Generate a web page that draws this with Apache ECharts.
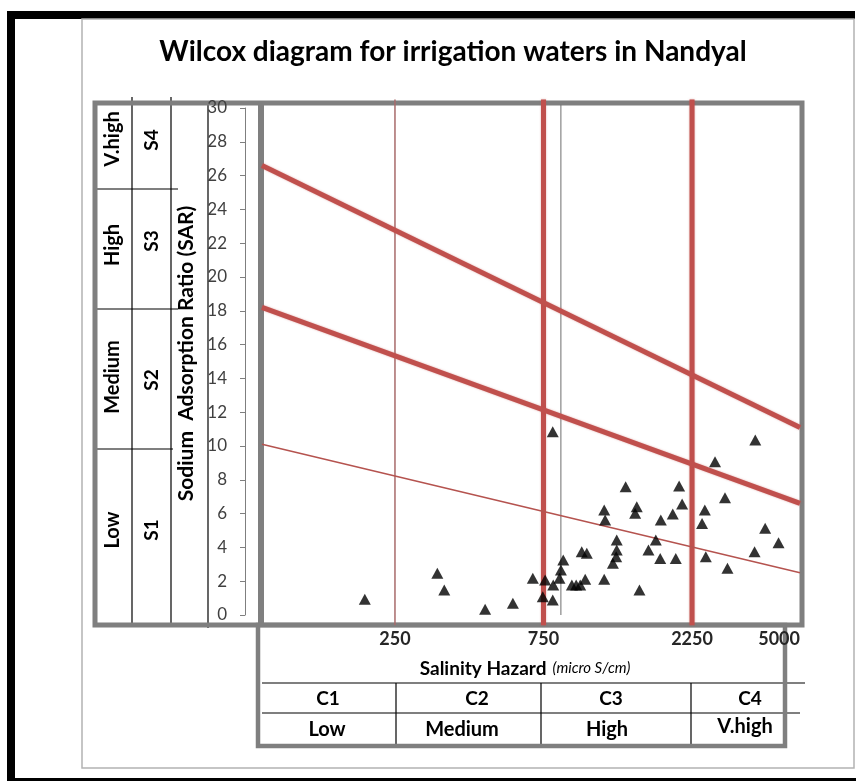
<!DOCTYPE html>
<html><head><meta charset="utf-8">
<script src="https://cdn.jsdelivr.net/npm/echarts@6/dist/echarts.min.js"></script>
<style>html,body{margin:0;padding:0;background:#fff}#c{width:856px;height:781px}</style>
</head><body><div id="c"></div>
<script>
// ---------- DATA ----------
const chartTitle = 'Wilcox diagram for irrigation waters in Nandyal';
const xAxisName = 'Salinity Hazard';
const xAxisUnit = '(micro S/cm)';
const yAxisName = 'Sodium  Adsorption Ratio (SAR)';
// Sample EC (micro S/cm) and SAR values
const ecValues  = [200, 342, 360, 487, 598, 693, 759, 746, 803, 803, 806, 844, 853, 868, 925, 955, 984, 1021, 995, 1033,
                   1175, 1175, 1183, 1253, 1284, 1289, 1289, 1377, 1495, 1477, 1525, 1630, 1721, 1778, 1786, 1951, 1995, 2045, 2091, 2423,
                   2473, 2491, 2667, 2871, 2924, 3592, 3573, 3864, 4266];
const sarValues = [0.93, 2.47, 1.48, 0.34, 0.69, 2.17, 2.07, 1.08, 0.89, 10.85, 1.78, 2.17, 2.66, 3.25, 1.78, 1.78, 1.78, 2.11, 3.75, 3.65,
                   2.11, 6.21, 5.62, 3.06, 3.45, 3.85, 4.44, 7.59, 6.41, 6.02, 1.48, 3.85, 4.44, 3.35, 5.62, 5.98, 3.35, 7.63, 6.57, 5.42,
                   6.21, 3.45, 9.07, 6.94, 2.76, 10.36, 3.75, 5.13, 4.28];
const ecTicks = [250, 750, 2250, 5000];
const ecRange = [93.5, 5000];
const sarRange = [0, 30];
const sarInterval = 2;
const ecBoundaries = [250, 750, 2250];          // C1/C2, C2/C3, C3/C4
const ecRefLine = 853;                          // thin grey vertical line
const sBoundaryAtMin = [10.1, 18.2, 26.6];      // SAR of S1/S2, S2/S3, S3/S4 at ecRange[0]
const sBoundaryAtMax = [2.5, 6.6, 11.1];        // same lines at ecRange[1]
const salinityClasses = ['C1', 'C2', 'C3', 'C4'];
const salinityLevels  = ['Low', 'Medium', 'High', 'V.high'];
const sodiumClasses   = ['S1', 'S2', 'S3', 'S4'];
const sodiumLevels    = ['Low', 'Medium', 'High', 'V.high'];

// ---------- LAYOUT ----------
const FONT = 'Lato, sans-serif';
const RED = '#c0504d';
const GREY = '#7f7f7f';
const gridBox = {left: 262, top: 108, width: 538, height: 507};

const g = [];
function rect(x, y, w, h, style) { g.push({type: 'rect', shape: {x, y, width: w, height: h}, style, silent: true}); }
function line(x1, y1, x2, y2, stroke, lw) { g.push({type: 'line', shape: {x1, y1, x2, y2}, style: {stroke, lineWidth: lw}, silent: true}); }
function text(t, x, y, size, rot, extra) {
  g.push({type: 'text', x, y, rotation: rot || 0, silent: true,
    style: Object.assign({text: t, fill: '#000', font: 'bold ' + size + 'px ' + FONT, align: 'center', verticalAlign: 'middle'}, extra || {})});
}
// outer frame
rect(7, 11, 848, 8, {fill: '#000'});
rect(7, 11, 8, 770, {fill: '#000'});
rect(7, 778, 849, 3, {fill: '#000'});
rect(82, 19, 772, 749, {fill: 'none', stroke: '#b3b3b3', lineWidth: 1.5});
// left table + plot box
line(132, 97, 132, 625, '#000', 1.2);
line(171, 97, 171, 625, '#000', 1.2);
line(208, 105, 208, 628, '#000', 1.2);
line(95, 189, 178, 189, '#000', 1.2);
line(95, 309, 178, 309, '#000', 1.2);
line(95, 449, 173, 449, '#000', 1.2);
rect(95, 103, 707, 522, {fill: 'none', stroke: GREY, lineWidth: 5});
line(261, 103, 261, 625, GREY, 6);
// bottom table
line(262, 683, 805, 683, '#000', 1.2);
line(262, 713, 800, 713, '#000', 1.2);
const colDiv = [396, 541, 691];
colDiv.forEach(x => line(x, 683, x, 746, '#000', 1.2));
rect(258, 625, 527, 121, {fill: 'none', stroke: GREY, lineWidth: 4.5});
const cX = [328, 477, 611, 750];
const lX = [327, 462, 607, 745];
salinityClasses.forEach((t, i) => text(t, cX[i], 699, 19));
salinityLevels.forEach((t, i) => text(t, lX[i], i === 3 ? 727 : 730, 20));
const sY = [530, 380, 241, 140];
const lvY = [530, 377, 245, 139];
sodiumClasses.forEach((t, i) => text(t, 152, sY[i], 19, Math.PI / 2));
sodiumLevels.forEach((t, i) => text(t, 113, lvY[i], 20, Math.PI / 2));

// ---------- SERIES ----------
const series = [];
ecBoundaries.forEach((ec, i) => {
  series.push({type: 'line', clip: false, symbol: 'none', silent: true, z: 3,
    data: [[ec, -0.6], [ec, 30.5]],
    lineStyle: i === 0 ? {color: '#a86a6a', width: 1.5} : {color: RED, width: 5, shadowBlur: 2, shadowColor: 'rgba(192,80,77,0.5)'}});
});
series.push({type: 'line', clip: false, symbol: 'none', silent: true, z: 3,
  data: [[ecRefLine, 0], [ecRefLine, 30.2]], lineStyle: {color: '#6d6d6d', width: 1}});
sBoundaryAtMin.forEach((s0, i) => {
  series.push({type: 'line', clip: false, symbol: 'none', silent: true, z: 3,
    data: [[ecRange[0], s0], [ecRange[1], sBoundaryAtMax[i]]],
    lineStyle: i === 0 ? {color: '#b5534f', width: 1.5} : {color: RED, width: 5, shadowBlur: 2, shadowColor: 'rgba(192,80,77,0.5)'}});
});
series.push({type: 'scatter', symbol: 'triangle', symbolSize: [12, 11], z: 5,
  itemStyle: {color: '#000'}, data: ecValues.map((e, i) => [e, sarValues[i]])});

const chart = echarts.init(document.getElementById('c'), null, {renderer: 'canvas'});
chart.setOption({
  animation: false,
  backgroundColor: '#fff',
  textStyle: {fontFamily: FONT},
  title: {text: chartTitle, left: 448, top: 33, textAlign: 'center',
    textStyle: {fontFamily: FONT, fontWeight: 'bold', fontSize: 28, color: '#000'}},
  grid: Object.assign({containLabel: false}, gridBox),
  xAxis: {
    type: 'log', logBase: 10, min: ecRange[0], max: ecRange[1],
    axisLine: {show: false}, axisTick: {show: false}, splitLine: {show: false}, minorTick: {show: false},
    axisLabel: {customValues: ecTicks, showMaxLabel: true, showMinLabel: true, alignMaxLabel: 'right',
      fontFamily: FONT, fontWeight: 'bold', fontSize: 18, color: '#262626', margin: 15,
      formatter: v => String(Math.round(v))},
    name: '{a|' + xAxisName + '}  {b|' + xAxisUnit + '}', nameLocation: 'middle', nameGap: 44,
    nameTextStyle: {padding: [0, 12, 0, 0], rich: {
      a: {fontFamily: FONT, fontWeight: 'bold', fontSize: 19, color: '#000'},
      b: {fontFamily: FONT, fontStyle: 'italic', fontSize: 15, color: '#000'}}}
  },
  yAxis: {
    type: 'value', min: sarRange[0], max: sarRange[1], interval: sarInterval, offset: 17,
    axisLine: {show: true, lineStyle: {color: GREY, width: 1}},
    axisTick: {show: true, length: 5, lineStyle: {color: GREY}},
    splitLine: {show: false},
    axisLabel: {fontFamily: FONT, fontSize: 17, color: '#404040', margin: 18},
    name: yAxisName, nameLocation: 'middle', nameGap: 35, nameRotate: 90,
    nameTextStyle: {fontFamily: FONT, fontWeight: 'bold', fontSize: 21, color: '#000', padding: [0, 0, 0, 16]}
  },
  graphic: g,
  series
});
</script></body></html>
